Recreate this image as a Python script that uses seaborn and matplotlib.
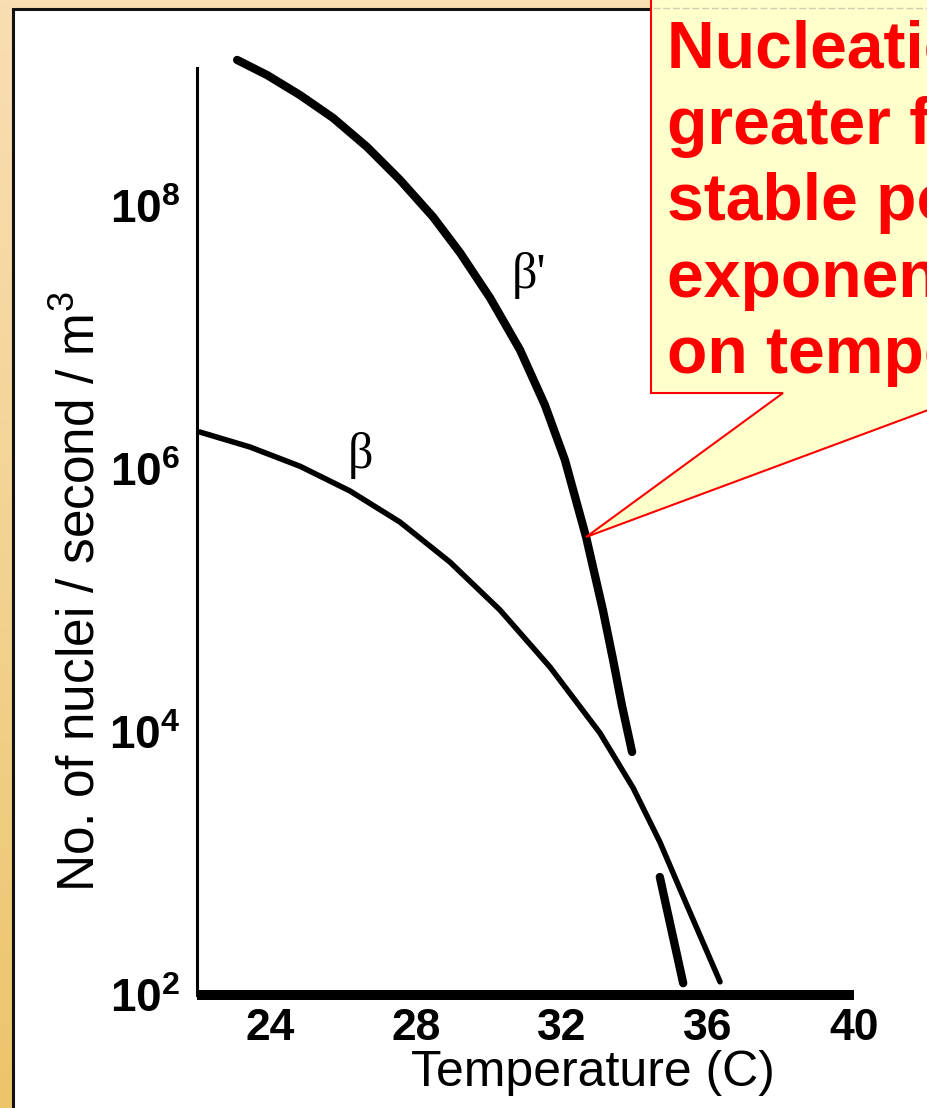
import numpy as np
import matplotlib
matplotlib.use('Agg')
import matplotlib.pyplot as plt
import seaborn as sns
from matplotlib.patches import Rectangle, Polygon
from matplotlib.lines import Line2D
from matplotlib.colors import LinearSegmentedColormap
from matplotlib.ticker import NullFormatter

# ---------------- data ----------------
beta_prime_temp = [23.10, 23.92, 24.82, 25.73, 26.66, 27.56, 28.47, 29.21, 30.03,
                   30.85, 31.53, 32.08, 32.66, 33.12, 33.40, 33.64, 33.92]
beta_prime_rate = [1.29e9, 9.9e8, 6.98e8, 4.67e8, 2.81e8, 1.58e8, 8.24e7, 4.40e7, 2.00e7,
                   8.04e6, 3.07e6, 1.17e6, 3.04e5, 8.47e4, 3.53e4, 1.60e4, 7.05e3]
beta_temp = [22.08, 23.45, 24.82, 26.19, 27.56, 28.93, 30.30, 31.67, 33.04,
             33.95, 34.68, 35.42, 36.33]
beta_rate = [1.91e6, 1.47e6, 1.05e6, 6.81e5, 3.95e5, 1.96e5, 8.47e4, 3.12e4, 9.82e3,
             3.75e3, 1.46e3, 4.83e2, 1.26e2]
segment_temp = [34.68, 35.32]
segment_rate = [7.89e2, 1.23e2]

x_ticks = [24, 28, 32, 36, 40]
x_tick_labels = ['24', '28', '32', '36', '40']
y_major = [1e2, 1e4, 1e6, 1e8]
y_major_labels = [r'$\mathbf{10^{2}}$', r'$\mathbf{10^{4}}$', r'$\mathbf{10^{6}}$', r'$\mathbf{10^{8}}$']
y_minor = [1e3, 1e5, 1e7, 1e9]

x_label = 'Temperature (C)'
y_label = 'No. of nuclei / second / m$^{3}$'
curve_labels = ["\u03b2'", "\u03b2"]
callout_lines = ['Nucleation rate', 'greater for less', 'stable polymorph;',
                 'exponential dependence', 'on temperature']
callout_anchor_index = 12  # point of the beta' curve the callout points at

# ---------------- style ----------------
sns.set_theme(style='white', rc={
    'text.color': 'black', 'axes.labelcolor': 'black',
    'xtick.color': 'black', 'ytick.color': 'black', 'axes.edgecolor': 'black'})
plt.rcParams['font.family'] = ['Liberation Sans', 'DejaVu Sans']
plt.rcParams['mathtext.fontset'] = 'custom'
plt.rcParams['mathtext.rm'] = 'Liberation Sans'
plt.rcParams['mathtext.bf'] = 'Liberation Sans:bold'
plt.rcParams['mathtext.it'] = 'Liberation Sans:italic'

W, H = 927, 1108
fig = plt.figure(figsize=(W / 100, H / 100), dpi=100)


def fx(px):
    return px / W


def fy(py):
    return 1 - py / H


# frame background gradient
bg = fig.add_axes([0, 0, 1, 1], zorder=-10)
grad = np.linspace(0, 1, 256).reshape(-1, 1)
cmap = LinearSegmentedColormap.from_list('frame', ['#F9DEB3', '#F3D392', '#ECC46A'])
bg.imshow(grad, aspect='auto', cmap=cmap, extent=[0, 1, 0, 1], origin='upper')
bg.set_axis_off()

# white panel with dark border
fig.add_artist(Rectangle((fx(13), fy(1130)), fx(1000) - fx(13), fy(9) - fy(1130),
                         transform=fig.transFigure, facecolor='white',
                         edgecolor='#111111', lw=2.2, zorder=-5))

# main axes
y_top_log = 9.2
ax_top_px = 995 - (y_top_log - 2) * 131.5
ax = fig.add_axes([fx(197), fy(995), 657 / W, (995 - ax_top_px) / H])
ax.set_facecolor('none')
ax.set_yscale('log')

sns.lineplot(x=beta_prime_temp, y=beta_prime_rate, ax=ax, color='black', lw=6,
             sort=False, estimator=None, solid_capstyle='round', solid_joinstyle='round')
sns.lineplot(x=beta_temp, y=beta_rate, ax=ax, color='black', lw=4.0,
             sort=False, estimator=None, solid_capstyle='round', solid_joinstyle='round')
sns.lineplot(x=segment_temp, y=segment_rate, ax=ax, color='black', lw=6,
             sort=False, estimator=None, solid_capstyle='round')

ax.set_xlim(22, 40)
ax.set_ylim(1e2, 10 ** y_top_log)

sns.despine(ax=ax, top=True, right=True)
ax.spines['left'].set_bounds(1e2, 10 ** 9.05)
ax.spines['left'].set_linewidth(2.2)
ax.spines['bottom'].set_linewidth(7.2)
ax.spines['bottom'].set_capstyle('butt')
ax.spines['left'].set_zorder(3)
ax.spines['bottom'].set_zorder(3)

ax.set_xticks(x_ticks, x_tick_labels)
ax.tick_params(axis='x', direction='in', length=9, width=1.4, color='#333333',
               pad=9, labelsize=32)
for t in ax.get_xticklabels():
    t.set_fontweight('bold')

ax.set_yticks(y_major, y_major_labels)
ax.set_yticks(y_minor, minor=True)
ax.yaxis.set_minor_formatter(NullFormatter())
ax.tick_params(axis='y', which='both', direction='in', length=11, width=2,
               pad=12, labelsize=33)

ax.set_xlabel(x_label, fontsize=36, va='center')
ax.xaxis.set_label_coords((593 - 197) / 657, (995 - 1073) / (995 - ax_top_px))
ax.set_ylabel(y_label, fontsize=37, va='center')
ax.yaxis.set_label_coords((81 - 197) / 657, (995 - 592) / (995 - ax_top_px))

ax.text(30.63, 10 ** 7.475, curve_labels[0], family=['Liberation Serif', 'DejaVu Serif'],
        fontsize=36, ha='left', va='center')
ax.text(26.47, 10 ** 6.106, curve_labels[1], family=['Liberation Serif', 'DejaVu Serif'],
        fontsize=36, ha='center', va='center')

# callout box
tip_disp = ax.transData.transform((beta_prime_temp[callout_anchor_index],
                                   beta_prime_rate[callout_anchor_index]))
tip = fig.transFigure.inverted().transform(tip_disp)
verts = [(fx(651), fy(-5)), (fx(1000), fy(-5)), (fx(1000), fy(393)), (fx(974), fy(393)),
         (tip[0], tip[1]), (fx(783), fy(393)), (fx(651), fy(393))]
fig.add_artist(Polygon(verts, closed=True, transform=fig.transFigure,
                       facecolor='#FFFFCC', edgecolor='#FF0000', lw=1.5,
                       joinstyle='miter', zorder=5))
fig.add_artist(Line2D([fx(653), 1], [fy(8), fy(8)], transform=fig.transFigure,
                      color='#CFCFB0', lw=1, ls=(0, (5, 2)), zorder=5.5))
for i, line in enumerate(callout_lines):
    fig.text(fx(667), fy(68 + i * 76.25), line, color='#FF0000', fontsize=47.5,
             fontweight='bold', ha='left', va='baseline', zorder=6)

fig.savefig('out.png', dpi=100)
